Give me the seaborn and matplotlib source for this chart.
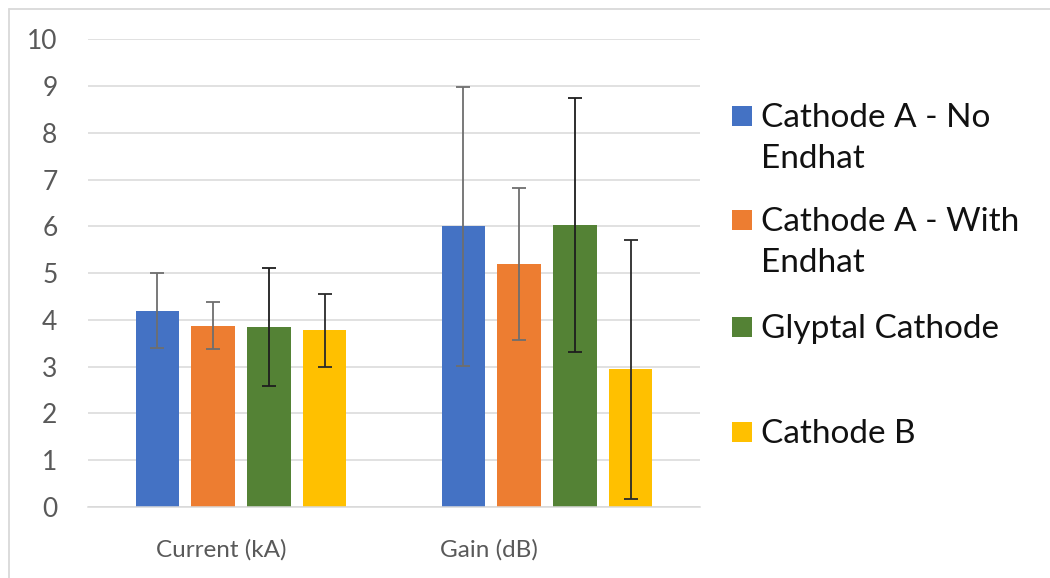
import matplotlib
matplotlib.use("Agg")
import matplotlib.pyplot as plt
from matplotlib.lines import Line2D
from matplotlib.patches import Rectangle
from matplotlib.transforms import ScaledTranslation
import numpy as np
import pandas as pd
import seaborn as sns

# ---- data -------------------------------------------------------------
metrics = ["Current (kA)", "Gain (dB)"]
series = ["Cathode A - No Endhat", "Cathode A - With Endhat",
          "Glyptal Cathode", "Cathode B"]
legend_lines = [["Cathode A - No", "Endhat"], ["Cathode A - With", "Endhat"],
                ["Glyptal Cathode"], ["Cathode B"]]

cathode_a_no = [4.20, 6.00]
cathode_a_with = [3.88, 5.20]
glyptal = [3.84, 6.03]
cathode_b = [3.78, 2.94]

cathode_a_no_err = [0.80, 2.98]
cathode_a_with_err = [0.50, 1.63]
glyptal_err = [1.26, 2.72]
cathode_b_err = [0.78, 2.77]

y_ticks = list(range(0, 11))

colors = ["#4472C4", "#ED7D31", "#548235", "#FFC000"]
err_colors = ["#6e6e6e", "#6e6e6e", "#1e1e1e", "#2a2a2a"]

values = [cathode_a_no, cathode_a_with, glyptal, cathode_b]
errors = [cathode_a_no_err, cathode_a_with_err, glyptal_err, cathode_b_err]

df = pd.DataFrame({
    "metric": np.tile(metrics, len(series)),
    "cathode": np.repeat(series, len(metrics)),
    "value": np.concatenate(values),
})

# ---- figure -------------------------------------------------------------
sns.set_theme(style="white")
plt.rcParams["font.family"] = ["Lato", "DejaVu Sans"]

W, H = 1050, 578
fig = plt.figure(figsize=(W / 100, H / 100), dpi=100)
ax = fig.add_axes([88 / W, 1 - 507 / H, 612 / W, 467.7 / H])

sns.barplot(data=df, x="metric", y="value", hue="cathode",
            hue_order=series, order=metrics, palette=colors,
            width=0.728, gap=0.22, errorbar=None, legend=False,
            linewidth=0, saturation=1, ax=ax)

# error bars centred on each drawn bar
for container, err, ec in zip(ax.containers, errors, err_colors):
    xs = [p.get_x() + p.get_width() / 2 for p in container]
    hs = [p.get_height() for p in container]
    ax.errorbar(xs, hs, yerr=err, fmt="none", ecolor=ec,
                elinewidth=1.3, capsize=5.2, capthick=1.3, zorder=5)

ax.set_xlim(-0.5, 1.5)
ax.set_ylim(0, 10)
ax.set_yticks(y_ticks)
ax.set_xlabel("")
ax.set_ylabel("")

ax.grid(axis="y", color="#d9d9d9", linewidth=1.1)
ax.set_axisbelow(True)
for side in ["left", "right", "top"]:
    ax.spines[side].set_visible(False)
ax.spines["bottom"].set_color("#d9d9d9")
ax.spines["bottom"].set_linewidth(1.1)

ax.tick_params(axis="y", length=0, pad=22, labelsize=19, labelcolor="#595959")
ax.tick_params(axis="x", length=0, pad=23, labelsize=17.5, labelcolor="#595959")

# category labels sit slightly left of their bar groups
for lbl, dx in zip(ax.get_xticklabels(), [-20, -58]):
    lbl.set_transform(lbl.get_transform() + ScaledTranslation(dx / 100, 0, fig.dpi_scale_trans))

# ---- legend ---------------------------------------------------------------
entry_y = [116, 220, 327, 432]
line_step = 41
for lines, col, yc in zip(legend_lines, colors, entry_y):
    fig.patches.append(Rectangle((732 / W, 1 - (yc + 10) / H), 20 / W, 20 / H,
                                 transform=fig.transFigure, facecolor=col,
                                 edgecolor="none"))
    for i, line in enumerate(lines):
        fig.text(761 / W, 1 - (yc + 11 + i * line_step) / H, line, fontsize=24,
                 color="#111111", va="baseline", ha="left")

# ---- chart frame -----------------------------------------------------------
fig.add_artist(Line2D([8.5 / W, 8.5 / W], [0, 1 - 8.5 / H], color="#d9d9d9",
                      lw=1.3, transform=fig.transFigure))
fig.add_artist(Line2D([8.5 / W, 1], [1 - 8.5 / H, 1 - 8.5 / H], color="#d9d9d9",
                      lw=1.3, transform=fig.transFigure))

fig.savefig("out.png", dpi=100, facecolor="white")
